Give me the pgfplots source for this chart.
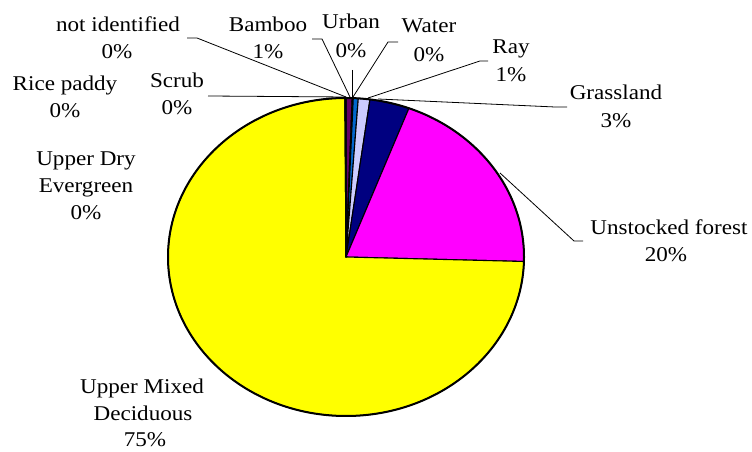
\documentclass[border=0pt]{standalone}
\usepackage{pgfplots}
\usepackage{pgfplotstable}
\pgfplotsset{compat=1.18}
\usepackage{fontspec}
\setmainfont{Liberation Serif}
\definecolor{cBamboo}{HTML}{660066}
\definecolor{cUrban}{HTML}{FF8080}
\definecolor{cWater}{HTML}{0066CC}
\definecolor{cRay}{HTML}{CCCCFF}
\definecolor{cGrass}{HTML}{000080}
\definecolor{cUnst}{HTML}{FF00FF}
\definecolor{cUMD}{HTML}{FFFF00}
\definecolor{cUDE}{HTML}{00FFFF}
\definecolor{cRice}{HTML}{800080}
\definecolor{cScrub}{HTML}{800000}
\definecolor{cNotId}{HTML}{008080}

\pgfplotstableread[col sep=comma]{
name,value,color
Bamboo,0.55,cBamboo
Urban,0.10,cUrban
Water,0.45,cWater
Ray,1.05,cRay
Grassland,3.60,cGrass
Unstocked forest,19.70,cUnst
Upper Mixed Deciduous,74.45,cUMD
Upper Dry Evergreen,0.03,cUDE
Rice paddy,0.03,cRice
Scrub,0.02,cScrub
not identified,0.02,cNotId
}\piedata

\newcommand\lbl[3]{\node[anchor=base,inner sep=0pt] at (axis cs:#1,#2) {\scalebox{1.1}[1]{#3}};}

\begin{document}
\begin{tikzpicture}
\fontsize{21}{25}\selectfont
\begin{axis}[hide axis, x=1pt, y=1pt, xmin=0, xmax=752, ymin=0, ymax=452,
  scale only axis, clip=false]
\def\cum{0}
\pgfplotsforeachungrouped \i in {0,...,10}{%
  \pgfplotstablegetelem{\i}{value}\of\piedata \let\v\pgfplotsretval
  \pgfplotstablegetelem{\i}{color}\of\piedata \let\c\pgfplotsretval
  \pgfmathsetmacro\a{90-3.6*\cum}%
  \pgfmathsetmacro\b{90-3.6*(\cum+\v)}%
  \edef\tmp{\noexpand\filldraw[fill=\c, draw=black, line width=1.1pt, line join=round] (axis cs:346,195) -- ++(\a:178pt and 159pt) arc[start angle=\a, end angle=\b, x radius=178pt, y radius=159pt] -- cycle;}%
  \tmp
  \pgfmathsetmacro\cum{\cum+\v}%
}
\draw[line width=2pt] (axis cs:346,195) ellipse [x radius=178pt, y radius=159pt];

% leader lines
\draw[line width=0.8pt] (axis cs:187,414) -- (axis cs:197,414) -- (axis cs:346,355);
\draw[line width=0.8pt] (axis cs:208,356) -- (axis cs:346,355);
\draw[line width=0.8pt] (axis cs:312,413) -- (axis cs:322,413) -- (axis cs:350,355);
\draw[line width=0.8pt] (axis cs:352,382) -- (axis cs:352,355);
\draw[line width=0.8pt] (axis cs:398,410) -- (axis cs:388,410) -- (axis cs:353,355);
\draw[line width=0.8pt] (axis cs:488,391) -- (axis cs:480,391) -- (axis cs:368,354);
\draw[line width=0.8pt] (axis cs:567,345) -- (axis cs:555,345) -- (axis cs:378,353);
\draw[line width=0.8pt] (axis cs:583,211) -- (axis cs:574,211) -- (axis cs:500,279);

% labels
\lbl{118}{420}{not identified}
\lbl{117}{393}{0\%}
\lbl{268}{420}{Bamboo}
\lbl{268}{393}{1\%}
\lbl{351}{423}{Urban}
\lbl{351}{394}{0\%}
\lbl{429}{419}{Water}
\lbl{429}{390}{0\%}
\lbl{511}{398}{Ray}
\lbl{511}{370}{1\%}
\lbl{616}{352}{Grassland}
\lbl{616}{324}{3\%}
\lbl{669}{217}{Unstocked forest}
\lbl{666}{190}{20\%}
\lbl{65}{361}{Rice paddy}
\lbl{65}{334}{0\%}
\lbl{177}{364}{Scrub}
\lbl{177}{337}{0\%}
\lbl{86}{286}{Upper Dry}
\lbl{86}{259}{Evergreen}
\lbl{86}{232}{0\%}
\lbl{142}{58}{Upper Mixed}
\lbl{143}{31}{Deciduous}
\lbl{145}{5}{75\%}
\end{axis}
\pgfresetboundingbox
\path[use as bounding box] (0,0) rectangle (752pt,452pt);
\end{tikzpicture}
\end{document}
